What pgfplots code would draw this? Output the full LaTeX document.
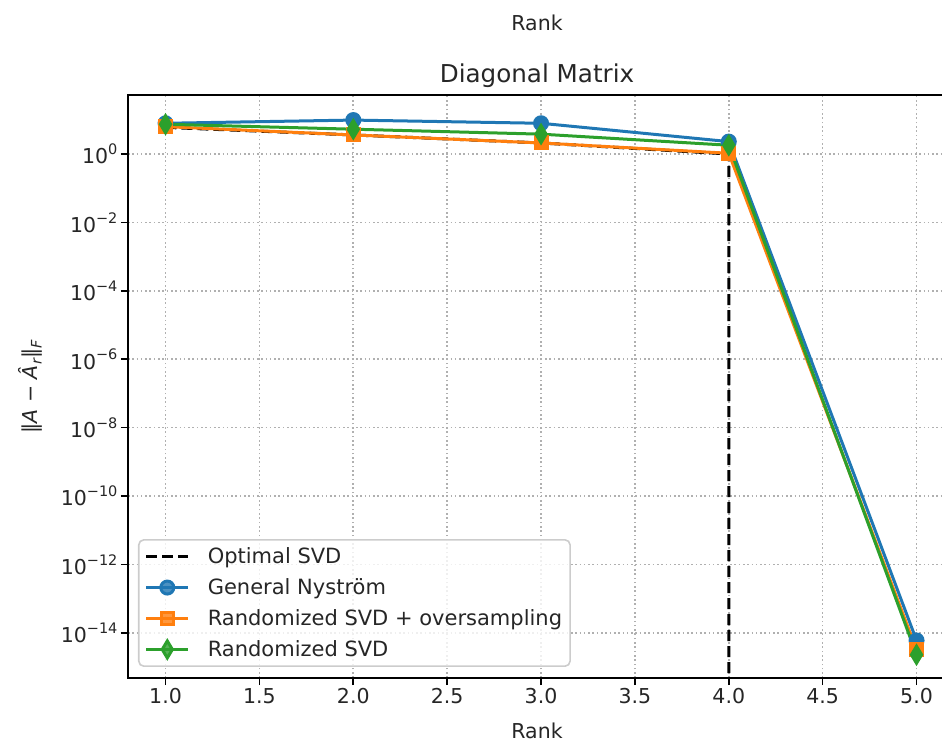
\documentclass[border=0pt]{standalone}
\usepackage{fontspec}
\setmainfont{DejaVu Sans}
\usepackage{pgfplots}
\pgfplotsset{compat=1.18}
\definecolor{c0}{HTML}{1F77B4}
\definecolor{c1}{HTML}{FF7F0E}
\definecolor{c2}{HTML}{2CA02C}
\newcommand\sups[1]{\raisebox{0.45em}{\fontsize{14.5}{16}\selectfont #1}}
\newcommand\subs[1]{\raisebox{-0.22em}{\fontsize{14.5}{16}\selectfont #1}}
\begin{document}
\begin{tikzpicture}[font=\fontsize{20.5}{24}\selectfont]
\begin{axis}[
  at={(0pt,0pt)}, anchor=south west,
  scale only axis, width=818pt, height=583pt,
  xmin=0.8, xmax=5.157,
  ymode=log, ymin=4.8e-16, ymax=53,
  xtick={1,1.5,2,2.5,3,3.5,4,4.5,5},
  xticklabels={1.0,1.5,2.0,2.5,3.0,3.5,4.0,4.5,5.0},
  ytick={1e-14,1e-12,1e-10,1e-8,1e-6,1e-4,1e-2,1},
  yticklabels={10\sups{−14},10\sups{−12},10\sups{−10},10\sups{−8},10\sups{−6},10\sups{−4},10\sups{−2},10\sups{0}},
  minor tick num=0,
  tick align=outside, tick pos=left,
  major tick length=7pt,
  every tick/.style={black, line width=1.6pt},
  axis line style={line width=1.6pt},
  grid=major,
  major grid style={color=black!31, line width=1.6pt, dash pattern=on 1.6pt off 2.7pt},
  xticklabel style={font=\fontsize{20.5}{24}\selectfont, text=black!85},
  yticklabel style={font=\fontsize{20.5}{24}\selectfont, text=black!85},
  xlabel={Rank},
  xlabel shift=12pt,
  xlabel style={font=\fontsize{20.5}{24}\selectfont, text=black!85},
  ylabel={‖\textit{A} − \textit{Â}\subs{\textit{r}}‖\subs{\textit{F}}},
  ylabel shift=12pt,
  ylabel style={font=\fontsize{20.5}{24}\selectfont, text=black!85},
  legend style={at={(0.0122,0.0189)}, anchor=south west,
    draw=black!20, line width=1.6pt, rounded corners=5pt,
    fill=white, fill opacity=0.8, text opacity=1,
    font=\fontsize{21}{24}\selectfont, text=black!85,
    row sep=9.5pt, inner sep=6pt,
    /tikz/every odd column/.append style={column sep=16pt}},
  legend cell align=left,
  legend image code/.code={\draw[mark repeat=2,mark phase=2] plot coordinates {(0pt,0pt) (21pt,0pt) (42pt,0pt)};},
]
\addplot[black, line width=3pt, dash pattern=on 11pt off 5pt] coordinates {(1,6.0) (2,3.6) (3,2.1) (4,1.0) (4,1e-18)};
\addlegendentry{Optimal SVD}
\addplot[c0, line width=3pt, mark=*, mark size=6.5pt] coordinates {(1,7.9) (2,9.8) (3,7.9) (4,2.3) (5,6e-15)};
\addlegendentry{General Nyström}
\addplot[c1, line width=3pt, mark=square*, mark size=6pt] coordinates {(1,6.3) (2,3.6) (3,2.1) (4,1.05) (5,3.2e-15)};
\addlegendentry{Randomized SVD + oversampling}
\addplot[c2, line width=3pt, mark=diamond*, mark size=8.5pt, mark options={xscale=0.8}] coordinates {(1,7.4) (2,5.3) (3,3.8) (4,1.8) (5,2.3e-15)};
\addlegendentry{Randomized SVD}
\end{axis}
\node[anchor=base, font=\fontsize{24.6}{28}\selectfont, text=black!85] at (409pt,595pt) {Diagonal Matrix};
\node[anchor=base, font=\fontsize{20.5}{24}\selectfont, text=black!85] at (409pt,647pt) {Rank};
\pgfresetboundingbox
\useasboundingbox (-128pt,-65pt) rectangle (814pt,678pt);
\end{tikzpicture}
\end{document}
